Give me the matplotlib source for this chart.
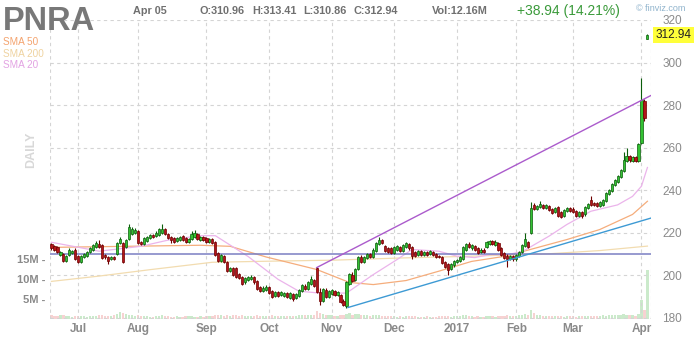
import matplotlib
matplotlib.use("Agg")
import matplotlib.pyplot as plt
import numpy as np
import pandas as pd

plt.rcParams["font.family"] = ["Liberation Sans", "DejaVu Sans"]

# ---- data ----
ticker = "PNRA"
holidays = ["2016-07-04", "2016-09-05", "2016-11-24", "2016-12-26",
            "2017-01-02", "2017-01-16", "2017-02-20"]
month_labels = ["Jul", "Aug", "Sep", "Oct", "Nov", "Dec", "2017", "Feb", "Mar", "Apr"]

opens = [214.5, 213.5, 213, 209.5, 210, 206.5, 209.5, 210.5, 212, 209,
         206, 208.5, 209, 211, 212, 213, 214.5, 214, 209.5, 208.5,
         207.5, 208.5, 210, 215, 215, 213, 217, 219.5, 220, 220.5,
         215.5, 214.5, 216, 217.5, 219, 218.5, 219, 220, 221.5, 219.5,
         218, 217.5, 216, 216.5, 218.5, 217.5, 215.5, 217, 218, 219.5,
         216.5, 218, 217.5, 215.5, 217, 215.5, 210.5, 206.5, 209, 206,
         202, 203.5, 203.5, 200.5, 199, 196.5, 197.5, 198, 199, 197,
         194.5, 192.5, 193, 194.5, 192.5, 190, 192, 190.5, 190, 191.5,
         189, 191, 189, 190, 192.5, 195, 193.5, 196, 197.5, 203.5,
         192, 188, 193, 189.5, 191, 192.5, 190.5, 190.5, 188, 185.5,
         196, 200, 197.5, 203, 208.5, 206, 208, 210, 208.5, 211.5,
         214.5, 216.5, 213.5, 212.5, 212.5, 210.5, 212, 213, 211.5, 213,
         214.5, 213, 211, 209.5, 211.5, 209.5, 211, 210, 211, 210,
         209, 208.5, 206, 205, 203, 204.5, 206, 206.5, 207.5, 212,
         214.5, 212.5, 213.5, 212.5, 211, 212, 213, 214.5, 216, 214,
         215, 212.5, 210.5, 209, 207.5, 209, 207.5, 209, 211, 213.5,
         215.5, 220, 233, 231, 232, 233, 231.5, 232.5, 231, 229.5,
         232, 229.5, 228, 230, 231.5, 231, 230, 228, 229.5, 228.5,
         231.5, 235.5, 234, 234, 232.5, 233, 235, 238, 239.5, 242.5,
         244, 246, 249, 253.5, 256, 253.5, 255.5, 253.5, 262, 282,
         310.96]
highs = [215, 214, 213.5, 211.5, 210.5, 209.5, 212.5, 212, 212.5, 209.5,
         209.5, 210.5, 211.5, 213, 214.5, 216, 216.5, 214.5, 210, 209,
         209, 209, 215.5, 218, 215.5, 217, 224, 222.5, 222, 221,
         216, 218, 218.5, 219.5, 219.5, 220.5, 222, 224, 222, 220,
         218.5, 218, 218, 218.5, 219, 218, 217.5, 220.5, 221, 220,
         218.5, 218.5, 218, 217.5, 217.5, 216, 211, 210, 209.5, 206.5,
         204, 204, 204, 201, 199.5, 199, 199.5, 200, 199.5, 197.5,
         195, 195, 195.5, 195, 193, 192.5, 192.5, 192.5, 192, 192,
         192, 191.5, 191.5, 193.5, 196, 196, 197, 199.5, 198, 204,
         194, 194, 194, 193, 193.5, 193, 192.5, 191, 188.5, 197,
         201, 201.5, 203.5, 209, 209.5, 209, 210.5, 210.5, 212.5, 215.5,
         218, 217, 214, 213, 213, 213.5, 214, 213.5, 214.5, 215.5,
         215, 213.5, 211.5, 212, 212, 211.5, 211.5, 212, 211.5, 210.5,
         209.5, 209, 206.5, 205.5, 205.5, 207, 207.5, 209, 213.5, 215,
         215.5, 214.5, 214, 213, 212.5, 212.5, 216, 216.5, 216.5, 216.5,
         215.5, 213, 211, 210, 209.5, 209.5, 210, 211.5, 214.5, 220,
         216, 234.5, 234, 233, 235, 233.5, 233.5, 233, 231.5, 232,
         232.5, 230, 231, 232, 232, 232, 230.5, 230, 230, 232.5,
         234, 237, 234.5, 234.5, 235, 236, 239, 240.5, 243.5, 245,
         247, 250, 258, 260, 256.5, 256, 256, 262, 292.5, 283,
         313.41]
lows = [212, 211.5, 210.5, 209, 206, 206, 209, 210, 207, 205.5,
        205.5, 208, 208.5, 210.5, 211.5, 212.5, 212.5, 207.5, 207.5, 205,
        207, 207, 209.5, 214.5, 205.5, 212.5, 216.5, 219, 219.5, 214.5,
        214, 214, 215.5, 217, 217.5, 218, 218.5, 219.5, 219, 217,
        215, 215, 215.5, 216, 216, 215, 215, 216.5, 217.5, 216.5,
        216, 216, 215, 215, 214.5, 209, 206, 206, 205.5, 201.5,
        201.5, 199.5, 198.5, 198, 195.5, 196, 197, 197.5, 196, 193,
        192, 192, 192.5, 191, 189, 189.5, 189.5, 190, 189.5, 189,
        188.5, 188, 188.5, 189.5, 192, 193, 193, 195.5, 194.5, 191.5,
        186, 187.5, 189, 189, 190.5, 190, 190, 187, 185.5, 184.7,
        195.5, 196.5, 197, 202.5, 205.5, 205.5, 207.5, 208, 208, 211,
        214, 214.5, 211, 210.5, 210, 210, 211.5, 211, 211, 212.5,
        212, 207.5, 208.5, 209, 209, 209, 209, 209.5, 209, 208,
        208, 205, 203.5, 200, 202.5, 204, 205.5, 206, 207, 211.5,
        212.5, 212, 211.5, 210, 210.5, 210.5, 212.5, 214, 214, 213.5,
        211.5, 209, 207.5, 204, 207, 206.5, 206.5, 208.5, 210.5, 213,
        212.5, 219.5, 230.5, 230.5, 231.5, 231, 231, 230, 228.5, 229,
        227.5, 227, 227.5, 229.5, 229.5, 229, 227.5, 227.5, 227, 228,
        231, 232.5, 232.5, 232, 232, 232.5, 234.5, 237.5, 239, 242,
        243.5, 245.5, 248.5, 253, 253, 253, 253, 253, 261.5, 272.5,
        310.86]
closes = [212.5, 212, 211, 211, 206.5, 209, 212, 211.5, 207.5, 206,
          209, 210, 211, 212.5, 214, 215, 213, 208, 208.5, 206.5,
          208.5, 207.5, 215, 217, 206, 216.5, 222.5, 221.5, 221, 215,
          214.5, 217.5, 218, 219, 218, 220, 221.5, 221.5, 219.5, 217.5,
          216.5, 215.5, 217.5, 218, 216.5, 215.5, 217, 219.5, 220, 217,
          218, 216.5, 215.5, 217, 215, 209.5, 206.5, 209.5, 206, 202,
          203.5, 200, 199, 198.5, 196, 198.5, 199, 199, 196.5, 193.5,
          192.5, 194, 194.5, 191.5, 189.5, 192, 190, 192, 191.5, 189.5,
          191.5, 188.5, 191, 193, 195.5, 193.5, 196.5, 198, 195, 192,
          188, 193.5, 189.5, 192.5, 193, 190.5, 192, 187.5, 186, 196.5,
          200.5, 197, 203, 208.5, 206, 208.5, 210, 208.5, 212, 215,
          216.5, 215, 211.5, 211, 210.5, 213, 213.5, 211.5, 214, 215,
          212.5, 209, 209, 211.5, 209.5, 211, 209.5, 211.5, 209.5, 208.5,
          208.5, 205.5, 204, 202.5, 205, 206.5, 207, 208.5, 213, 214.5,
          213, 214, 212, 210.5, 212, 211, 215.5, 216, 214.5, 215.5,
          212, 209.5, 208, 207.5, 209, 207.5, 209.5, 211, 214, 217,
          213, 231.5, 231, 232.5, 233.5, 231.5, 233, 230.5, 229, 231.5,
          228, 227.5, 230.5, 231.5, 230, 229.5, 228, 229.5, 228, 232,
          233.5, 233, 233, 232.5, 234.5, 235.5, 238.5, 240, 243, 244.5,
          246.5, 249.5, 254, 256, 254, 255.5, 253.5, 261.5, 282.5, 274,
          312.94]
volume_m = [0.9, 0.8, 0.7, 1.0, 1.1, 0.8, 0.7, 0.6, 0.8,
            0.7, 0.8, 0.8, 0.6, 0.7, 0.8, 0.7, 0.9, 1.0, 0.8, 0.7, 0.8, 0.9, 1.2, 1.8, 1.5, 1.3, 1.1, 0.9, 0.8,
            0.9, 0.8, 0.7, 0.7, 0.6, 0.6, 0.7, 0.8, 0.9, 0.7, 0.7, 0.6, 0.6, 0.7, 0.6, 0.6, 0.7, 0.8, 0.7, 0.6, 0.6, 0.7, 0.6,
            0.7, 0.8, 0.7, 1.1, 1.0, 0.9, 0.8, 1.0, 0.8, 0.9, 1.0, 0.8, 0.9, 0.8, 0.7, 0.7, 0.8, 0.9, 0.8, 0.7, 0.7,
            0.8, 0.9, 0.8, 0.7, 0.7, 0.8, 0.7, 0.8, 0.7, 0.8, 0.9, 1.0, 0.9, 1.0, 1.1, 1.0, 2.1, 1.6, 1.2, 1.0, 0.9,
            0.9, 0.8, 0.8, 0.9, 1.0, 1.3, 1.5, 1.1, 1.2, 1.3, 1.0, 0.9, 0.9, 0.8, 0.9, 1.0, 1.1, 0.8, 0.7, 0.7, 0.8,
            0.7, 0.6, 0.7, 0.6, 0.7, 0.7, 0.8, 0.7, 0.6, 0.6, 0.6, 0.7, 0.6, 0.6, 0.5, 0.7, 0.7, 0.8, 0.7, 0.6, 0.7,
            0.7, 0.8, 1.0, 0.9, 0.7, 0.7, 0.6, 0.7, 0.6, 0.6, 0.8, 0.7, 0.7, 0.6, 0.7, 0.8, 0.8, 1.0, 0.8, 0.7,
            0.8, 0.9, 1.0, 1.2, 1.1, 2.3, 1.4, 1.0, 0.9, 0.8, 0.8, 0.7, 0.7, 0.8, 0.7, 0.7, 0.6, 0.7, 0.7,
            0.7, 0.6, 0.7, 0.7, 0.8, 0.7, 0.8, 0.7, 0.7, 0.8, 0.9, 0.8, 0.9, 1.0, 1.0, 0.9, 1.0, 1.2, 1.0, 0.9, 0.9, 0.8, 1.3,
            4.8, 2.2, 12.16]

# moving averages, read at a few trading-day positions
sma20_at = [0, 16, 30, 40, 50, 55, 66, 76, 83, 90, 99, 108, 116, 121, 130, 136,
            142, 147, 153, 158, 167, 173, 181, 190, 195, 198, 200]
sma20 = [215.4, 211.2, 213.5, 216.7, 218.5, 218.5, 208.7, 198, 192.4, 191.5, 191.5,
         200.2, 207.3, 212, 211.2, 208.9, 208.2, 209.6, 209.6, 211, 218.3, 223.8,
         230, 233, 237, 241.8, 250.6]
sma50_at = [0, 25, 50, 60, 72, 89, 100, 108, 119, 130, 141, 153, 157, 173, 184, 195, 200]
sma50 = [213, 213.5, 214, 213.5, 208.5, 202.6, 196.5, 195.5, 197.4, 201.8, 206.4,
         209, 210.6, 216.7, 221.4, 228.5, 234.7]
sma200_at = [0, 16, 33, 54, 73, 95, 117, 137, 167, 184, 200]
sma200 = [197, 199.5, 202.5, 206, 206.5, 207, 208, 208.7, 210, 211.5, 213.6]

# drawn trendlines (start/end in trading-day index and price)
upper_line = ([89, 201.2], [203.5, 284.5])
lower_line = ([99.5, 201.2], [184.7, 226.8])
level_line = 210

# ---- derived ----
days = pd.bdate_range("2016-06-20", "2017-04-05")
days = days[~days.isin(pd.to_datetime(holidays))]
O, H, L, C = (np.array(v, float) for v in (opens, highs, lows, closes))
V = np.array(volume_m)
n = len(C)
x = np.arange(n)
mon = days.to_period("M")
month_pos = [i for i in range(1, len(days)) if mon[i] != mon[i - 1]]

W, Hpx = 700, 340
fig = plt.figure(figsize=(7, 3.4), dpi=100)
pos = [50 / W, 21 / Hpx, 601 / W, 299 / Hpx]
xlim = (-0.5, 201.2)

grid_c = "#d4d4d4"
txt_c = "#8a8a8a"

# volume axis (behind)
axv = fig.add_axes(pos)
up = C >= O
axv.bar(x[up], V[up], width=0.75, color="#b5e2b5", alpha=0.7, lw=0)
axv.bar(x[~up], V[~up], width=0.75, color="#f5c0c0", alpha=0.7, lw=0)
axv.set_xlim(*xlim)
axv.set_ylim(0, 299 / 4)
axv.set_yticks([5, 10, 15])
axv.set_yticklabels(["5M -", "10M -", "15M -"])
axv.tick_params(axis="y", length=0, pad=3, labelsize=8, labelcolor=txt_c)
for lab in axv.get_yticklabels():
    lab.set_fontweight("bold")
axv.set_xticks([])
for s in axv.spines.values():
    s.set_visible(False)

# price axis
ax = fig.add_axes(pos)
ax.patch.set_alpha(0)
ax.set_xlim(*xlim)
ax.set_ylim(179.3, 320)
for s in ax.spines.values():
    s.set_visible(False)

dash = dict(color=grid_c, lw=0.8, ls=(0, (3, 3)), zorder=0)
for p in range(180, 321, 20):
    ax.axhline(p, **dash)
for xi in month_pos + list(xlim):
    ax.axvline(xi, **dash)

ax.yaxis.tick_right()
ax.set_yticks(range(180, 321, 20))
ax.tick_params(axis="y", length=0, pad=8, labelsize=8.5, labelcolor=txt_c)
ax.set_xticks(month_pos)
ax.set_xticklabels(month_labels)
ax.tick_params(axis="x", length=0, pad=3, labelsize=8.5, labelcolor=txt_c)
for lab in ax.get_xticklabels():
    lab.set_fontweight("bold")

# moving averages and level
ax.plot(sma200_at, sma200, color="#f2dcb0", lw=0.9, zorder=2)
ax.plot(sma50_at, sma50, color="#f5ad7c", lw=0.9, zorder=2)
ax.plot(sma20_at, sma20, color="#ebb4eb", lw=0.9, zorder=2)
ax.axhline(level_line, color="#7a7fc2", lw=1.1, zorder=2)

# candles
g_face, g_edge = "#33c233", "#0b5e0b"
r_face, r_edge = "#b3141a", "#6e0000"
body = np.maximum(np.abs(C - O), 0.35)
bottom = np.minimum(O, C)
ax.vlines(x[up], L[up], H[up], color=g_edge, lw=0.8, zorder=3)
ax.vlines(x[~up], L[~up], H[~up], color=r_edge, lw=0.8, zorder=3)
ax.bar(x[up], body[up], bottom=bottom[up], width=0.72, color=g_face,
       edgecolor=g_edge, lw=0.5, zorder=4)
ax.bar(x[~up], body[~up], bottom=bottom[~up], width=0.72, color=r_face,
       edgecolor=r_edge, lw=0.5, zorder=4)

# trendlines
ax.plot(*upper_line, color="#ab5bcc", lw=1.0, zorder=5)
ax.plot(*lower_line, color="#3d9ad4", lw=1.0, zorder=5)

# last price box
ax.text(1.008, C[-1], f"{C[-1]:.2f}", transform=ax.get_yaxis_transform(),
        va="center", ha="left", fontsize=8.5, color="#222222",
        bbox=dict(boxstyle="square,pad=0.2", fc="#ffff3a", ec="none"))

# header texts
def ftext(px, py, s, **kw):
    fig.text(px / W, 1 - py / Hpx, s, va="baseline", **kw)

ftext(3, 30.5, ticker, fontsize=23.5, fontweight="bold", color="#787878")
hdr = dict(fontsize=7.8, fontweight="bold", color="#707070")
ftext(133, 14, f"{days[-1]:%b %d}", **hdr)
ftext(200, 14, f"O:{O[-1]:.2f}", **hdr)
ftext(252, 14, f"H:{H[-1]:.2f}", **hdr)
ftext(303, 14, f"L:{L[-1]:.2f}", **hdr)
ftext(353, 14, f"C:{C[-1]:.2f}", **hdr)
ftext(432, 14, f"Vol:{V[-1]:.2f}M", **hdr)
chg = C[-1] - C[-2]
ftext(517, 15, f"+{chg:.2f} ({chg / C[-2] * 100:.2f}%)", fontsize=10, color="#3a9a3a")
ftext(636, 11, "\u00a9 finviz.com", fontsize=6.5, color="#8fb3cc")

ftext(3, 45, "SMA 50", fontsize=7.2, color="#f4a36e")
ftext(3, 57, "SMA 200", fontsize=7.2, color="#efd3a0")
ftext(3, 68, "SMA 20", fontsize=7.2, color="#e3a3e3")
fig.text(31 / W, 1 - 150 / Hpx, "DAILY", rotation=90, fontsize=9,
         fontweight="bold", color="#d8d8d8", ha="center", va="center")

fig.savefig("out.png", dpi=100)
